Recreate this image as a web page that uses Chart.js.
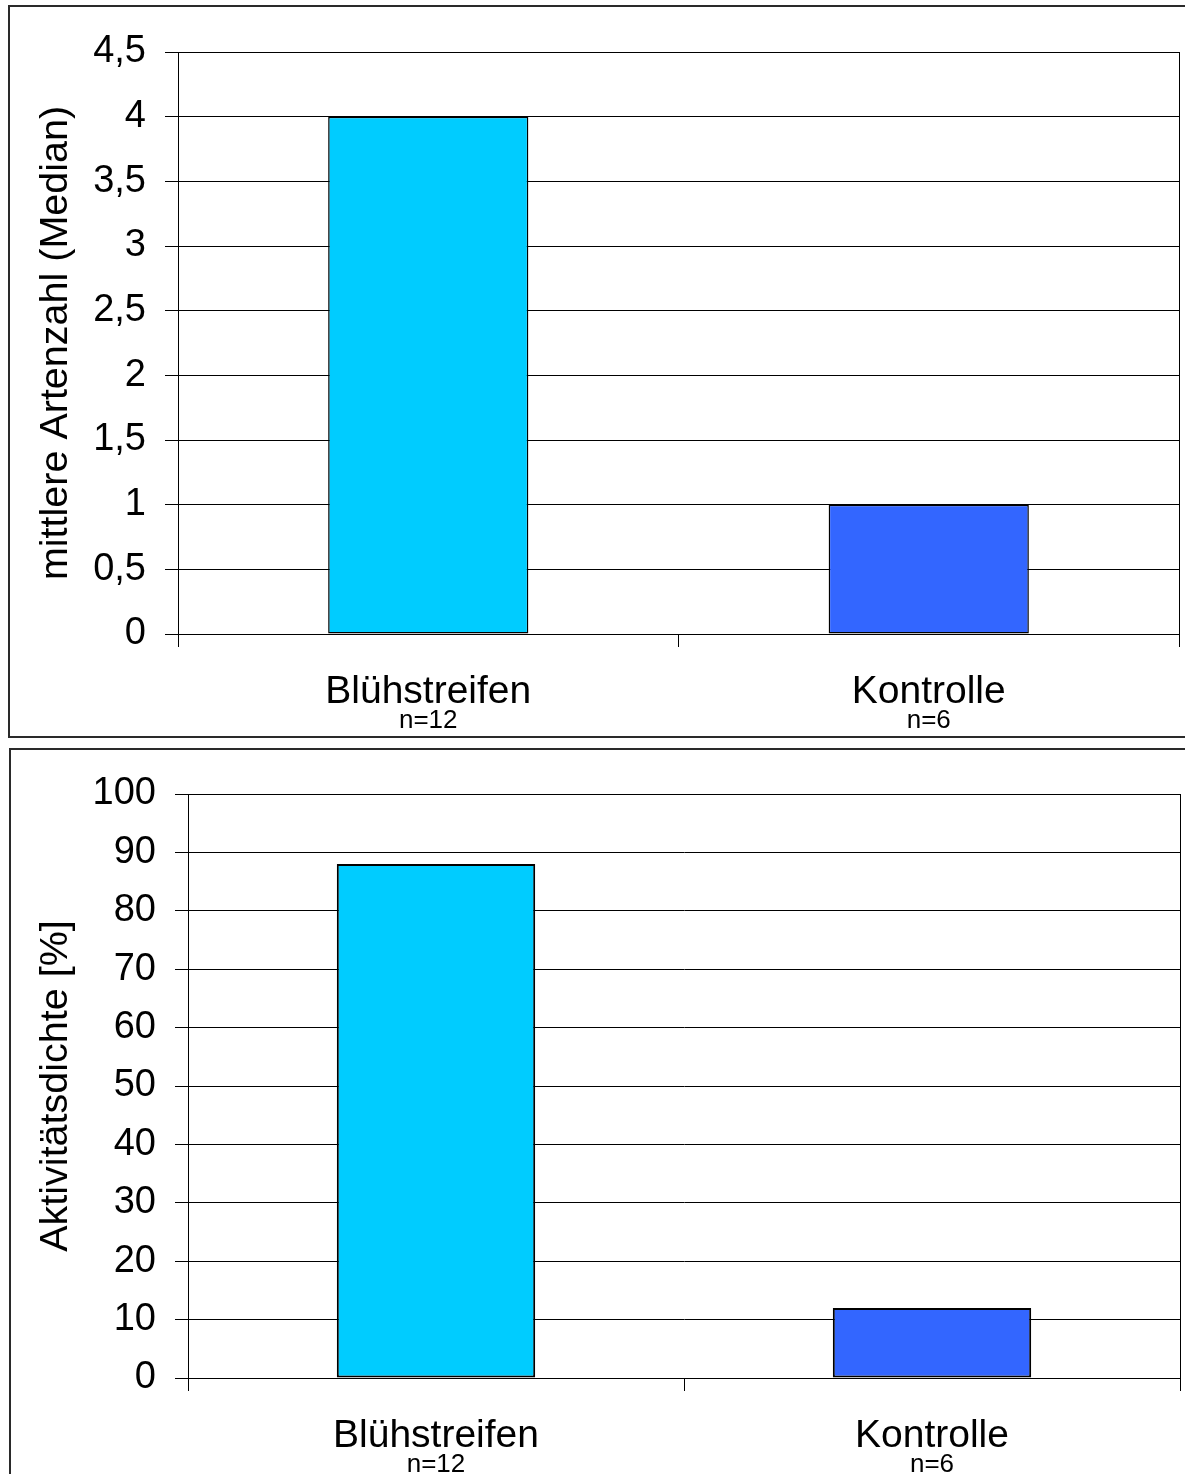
<!DOCTYPE html>
<html>
<head>
<meta charset="utf-8">
<title>Artenzahl und Aktivitätsdichte</title>
<script src="https://cdn.jsdelivr.net/npm/chart.js@4/dist/chart.umd.min.js"></script>
<style>
  html, body { margin: 0; padding: 0; background: #fff; }
  body { position: relative; width: 1185px; height: 1474px; overflow: hidden; }
  .panel { position: absolute; border: 2px solid #2a2a2a; box-sizing: border-box; }
  #panelTop { left: 8px; top: 5px; width: 1200px; height: 733px; }
  #panelBottom { left: 9px; top: 748px; width: 1200px; height: 760px; }
  canvas { position: absolute; left: 0; }
  #chartTop { top: 0; }
  #chartBottom { top: 740px; }
</style>
</head>
<body>
<div class="panel" id="panelTop"></div>
<div class="panel" id="panelBottom"></div>
<canvas id="chartTop" width="1185" height="740"></canvas>
<canvas id="chartBottom" width="1185" height="734"></canvas>
<script>
// Categories and sample sizes shared by both charts
const categories = ['Blühstreifen', 'Kontrolle'];
const sampleSizes = ['n=12', 'n=6'];

// Median species count per variant
const speciesMedian = [4, 1];
// Activity density in percent per variant
const activityDensity = [88, 12];

// Axis ranges
const speciesAxis = { min: 0, max: 4.5, step: 0.5 };
const activityAxis = { min: 0, max: 100, step: 10 };

const barColors = ['#00CCFF', '#3366FF'];
const FONT = "'Liberation Sans', Arial, Helvetica, sans-serif";

Chart.defaults.font.family = FONT;
Chart.defaults.color = '#000';

// Frames the plot area and writes the sample size below each category label
const plotExtras = {
  id: 'plotExtras',
  afterDraw(chart, args, opts) {
    const ctx = chart.ctx;
    const a = chart.chartArea;
    ctx.save();
    ctx.strokeStyle = '#000';
    ctx.lineWidth = 1;
    ctx.strokeRect(Math.round(a.left) + 0.5, Math.round(a.top) + 0.5,
                   Math.round(a.right - a.left), Math.round(a.bottom - a.top));
    const xs = chart.scales.x;
    ctx.fillStyle = '#000';
    ctx.font = '26px ' + FONT;
    ctx.textAlign = 'center';
    ctx.textBaseline = 'middle';
    sampleSizes.forEach((s, i) => {
      ctx.fillText(s, xs.getPixelForValue(i), a.bottom + opts.nOffset);
    });
    ctx.restore();
  }
};

function makeChart(id, values, axis, title, layout, decimalComma, borderW) {
  return new Chart(document.getElementById(id), {
    type: 'bar',
    data: {
      labels: categories,
      datasets: [{
        data: values,
        backgroundColor: barColors,
        borderColor: '#000',
        borderWidth: borderW,
        borderSkipped: false,
        barPercentage: 0.4,
        categoryPercentage: 1.0
      }]
    },
    options: {
      responsive: false,
      animation: false,
      devicePixelRatio: 1,
      layout: { padding: layout.padding },
      plugins: {
        legend: { display: false },
        tooltip: { enabled: false },
        plotExtras: { nOffset: 87 }
      },
      scales: {
        x: {
          grid: {
            display: true,
            drawOnChartArea: false,
            drawTicks: true,
            tickLength: 13,
            color: '#000',
            lineWidth: 1
          },
          border: { display: true, color: '#000', width: 1 },
          ticks: {
            font: { size: 39 },
            color: '#000',
            padding: 22,
            maxRotation: 0
          },
          afterFit(scale) { scale.height = layout.xHeight; }
        },
        y: {
          min: axis.min,
          max: axis.max,
          grid: {
            color: '#000',
            lineWidth: 1,
            drawTicks: true,
            tickLength: 13
          },
          border: { display: true, color: '#000', width: 1 },
          ticks: {
            stepSize: axis.step,
            font: { size: 38 },
            color: '#000',
            padding: 19,
            callback: (v) => decimalComma ? String(v).replace('.', ',') : String(v)
          },
          title: {
            display: true,
            text: title,
            color: '#000',
            font: { size: 39.5 },
            padding: { top: 32, bottom: 0 }
          },
          afterFit(scale) { scale.width = layout.yWidth; }
        }
      }
    },
    plugins: [plotExtras]
  });
}

makeChart('chartTop', speciesMedian, speciesAxis, 'mittlere Artenzahl (Median)',
  { padding: { top: 52, right: 6, bottom: 0, left: 0 }, xHeight: 106, yWidth: 178 }, true, 1.5);

makeChart('chartBottom', activityDensity, activityAxis, 'Aktivitätsdichte [%]',
  { padding: { top: 54, right: 5, bottom: 0, left: 0 }, xHeight: 96, yWidth: 188 }, false, 2);
</script>
</body>
</html>
